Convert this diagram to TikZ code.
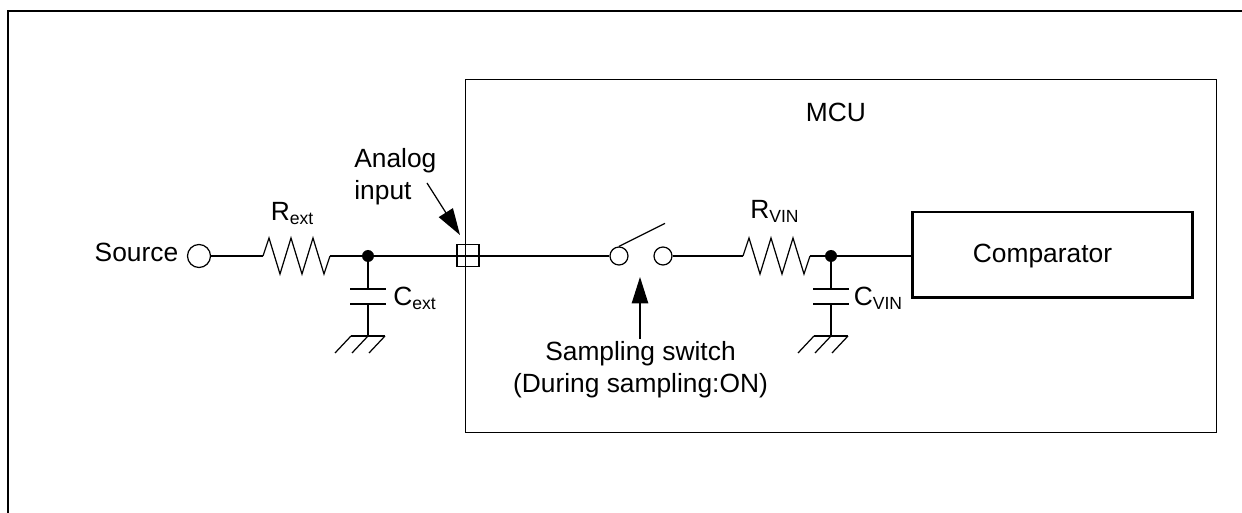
\documentclass[tikz,border=0pt]{standalone}
\usepackage{fontspec}
\setmainfont{Liberation Sans}
\usetikzlibrary{positioning,arrows.meta}
\tikzset{
  wire/.style={line width=0.7pt},
  plate/.style={line width=1.7pt},
  pin/.style={circle,draw,line width=0.7pt,fill=white,minimum size=0.36cm,inner sep=0pt},
  junction/.style={circle,fill=black,minimum size=0.24cm,inner sep=0pt},
  label/.style={inner sep=0pt,anchor=base,font=\fontsize{15pt}{18pt}\selectfont},
  callout/.style={wire,-{Triangle[length=0.53cm,width=0.33cm]}}
}
\newcommand\sub[2]{#1\raisebox{-0.28ex}{\fontsize{10pt}{12pt}\selectfont #2}}
% resistor between two named coordinates
\newcommand\resistor[2]{%
\draw[wire] (#1) -- ++(6,-18) -- ++(11,36) -- ++(11,-36) -- ++(11,36) -- ++(11,-36) -- ++(11,36) -- (#2);
}
% capacitor and ground below a junction
\newcommand\capground[2]{%
\draw[wire] (#1) -- ++(0,33);
\draw[wire] (#1) ++(0,48) -- ++(0,32) coordinate (#2);
\draw[plate] (#1) ++(-18,33) -- ++(36,0);
\draw[plate] (#1) ++(-18,48) -- ++(36,0);
\draw[wire] (#2) ++(-17,0) -- ++(34,0);
\foreach \i in {-17,0,17}
  \draw[wire] (#2) ++(\i,0) -- ++(-16,17);
}
\begin{document}
\begin{tikzpicture}[x=0.02cm,y=-0.02cm]
  \useasboundingbox (0,0) rectangle (1242,513);
  % frames
  \draw[line width=1.2pt] (8,513) -- (8,11) -- (1242,11);
  \node[draw,line width=0.6pt,minimum width=15.02cm,minimum height=7.08cm,inner sep=0pt] (mcu) at (841,256) {};
  \node[draw,line width=1.7pt,minimum width=5.62cm,minimum height=1.72cm,inner sep=0pt] (comp) at (1052.5,255) {};
  % top line
  \node[pin,minimum size=0.46cm] (source) at (199,256) {};
  \coordinate (rextin) at (263,256);
  \coordinate (rextout) at (330,256);
  \node[junction] (jext) at (368,256) {};
  \node[draw,line width=0.6pt,minimum size=0.44cm,inner sep=0pt] (ain) at (468,255.5) {};
  \node[pin] (swa) at (619,256) {};
  \node[pin] (swb) at (663,256) {};
  \coordinate (rvinin) at (743,256);
  \coordinate (rvinout) at (810,256);
  \node[junction] (jvin) at (831,256) {};
  \draw[wire] (source) -- (rextin);
  \resistor{rextin}{rextout}
  \draw[wire] (rextout) -- (jext) -- (ain.center |- jext) -- (swa);
  \draw[wire] (swb) -- (rvinin);
  \resistor{rvinin}{rvinout}
  \draw[wire] (rvinout) -- (jvin) -- (comp.west |- jvin);
  \draw[wire] (swa.north) -- ++(46,-23);
  \capground{jext}{gext}
  \capground{jvin}{gvin}
  % labels
  \node[label] (mcutext) at (836,122) {MCU};
  \node[label] (comptext) at (1042.5,263) {Comparator};
  \node[label] (sourcetext) at (136.5,262) {Source};
  \node[label] (rexttext) at (292,221) {\sub{R}{ext}};
  \node[label] (cexttext) at (414.5,306) {\sub{C}{ext}};
  \node[label] (rvintext) at (774.5,219) {\sub{R}{VIN}};
  \node[label] (cvintext) at (878,306) {\sub{C}{VIN}};
  \node[label,align=left,anchor=west] (aintext) at (354,176.5) {Analog\\input};
  \node[label,align=center,anchor=center] (swtext) at (640.5,370) {Sampling switch\\(During sampling:ON)};
  % arrows
  \coordinate (swtip) at (640,277);
  \coordinate (swtail) at (640,339);
  \coordinate (aintip) at (460,235);
  \coordinate (aintail) at (427,183);
  \draw[callout] (swtail) -- (swtip);
  \draw[callout] (aintail) -- (aintip);
\end{tikzpicture}
\end{document}
